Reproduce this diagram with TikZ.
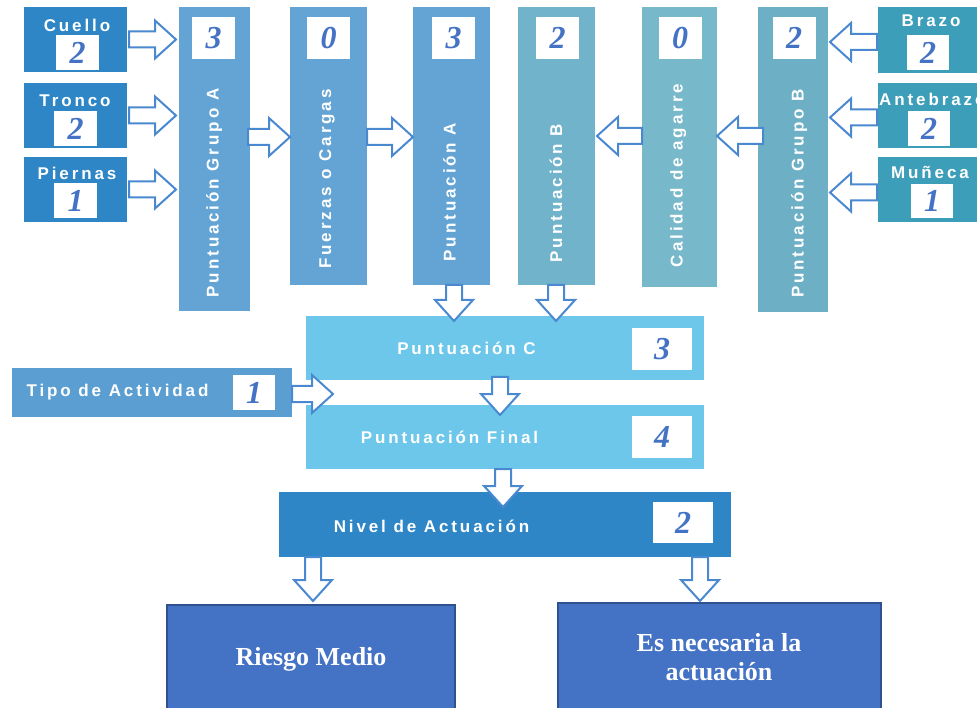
\documentclass[tikz,border=0pt]{standalone}
\usepackage{fontspec}
\usetikzlibrary{calc}
\newfontfamily\lblfont{Liberation Sans}[LetterSpace=17]
\newfontfamily\numfont{Liberation Serif}
\definecolor{leftblue}{HTML}{2E86C6}
\definecolor{colA}{HTML}{63A4D4}
\definecolor{colB}{HTML}{70B3CB}
\definecolor{colCal}{HTML}{77B8CB}
\definecolor{colGB}{HTML}{6DB0C6}
\definecolor{rightteal}{HTML}{3D9EB9}
\definecolor{lightC}{HTML}{6DC7EA}
\definecolor{tipoblue}{HTML}{5B9FD2}
\definecolor{nivelblue}{HTML}{2F86C6}
\definecolor{bottomblue}{HTML}{4472C4}
\definecolor{bottomedge}{HTML}{2F528F}
\definecolor{arrowblue}{HTML}{4A89D0}
\definecolor{numblue}{HTML}{4472C4}
\newcommand\BAs{8pt}
\newcommand\BAh{19pt}
\newcommand\BAl{21pt}
\newcommand\bx[6]{\node[box,fill=#6,minimum width=#4pt,minimum height=#5pt] (#1) at (#2,#3) {};}
\tikzset{
  box/.style={draw=none,inner sep=0pt,outer sep=0pt,anchor=north west},
  lbl/.style={font=\lblfont\bfseries\fontsize{17}{20}\selectfont,text=white,inner sep=0pt,text height=12.2pt,text depth=0pt},
  numbox/.style={fill=white,inner sep=0pt,font=\numfont\bfseries\itshape\fontsize{32}{36}\selectfont,text=numblue},
  bigtxt/.style={font=\numfont\bfseries\fontsize{26}{30}\selectfont,text=white,align=center,inner sep=0pt},
  blockarrow/.style={draw=arrowblue,line width=2pt,fill=white,line join=miter,
    to path={let \p1=(\tikztostart), \p2=(\tikztotarget),
      \n1={atan2(\y2-\y1,\x2-\x1)}, \n2={veclen(\x2-\x1,\y2-\y1)} in
      ($(\p1)+(\n1+90:\BAs)$) -- ($(\p1)+(\n1:\n2-\BAl)+(\n1+90:\BAs)$)
      -- ($(\p1)+(\n1:\n2-\BAl)+(\n1+90:\BAh)$) -- (\p2)
      -- ($(\p1)+(\n1:\n2-\BAl)+(\n1-90:\BAh)$) -- ($(\p1)+(\n1:\n2-\BAl)+(\n1-90:\BAs)$)
      -- ($(\p1)+(\n1-90:\BAs)$) -- cycle}}
}
\begin{document}
\begin{tikzpicture}[x=1pt,y=-1pt]
\useasboundingbox (0,0) rectangle (977,708);
\fill[white] (0,0) rectangle (977,708);
% boxes
\bx{cuello}{24}{7}{103}{65}{leftblue}
\bx{tronco}{24}{83}{103}{65}{leftblue}
\bx{piernas}{24}{157}{103}{65}{leftblue}
\bx{ga}{179}{7}{71}{304}{colA}
\bx{fz}{290}{7}{77}{278}{colA}
\bx{pa}{413}{7}{77}{278}{colA}
\bx{pb}{518}{7}{77}{278}{colB}
\bx{cal}{642}{7}{75}{280}{colCal}
\bx{gb}{758}{7}{70}{305}{colGB}
\bx{brazo}{878}{7}{107}{66}{rightteal}
\bx{ante}{878}{83}{107}{65}{rightteal}
\bx{muneca}{878}{157}{107}{65}{rightteal}
\bx{pc}{306}{316}{398}{64}{lightC}
\bx{pf}{306}{405}{398}{64}{lightC}
\bx{tipo}{12}{368}{280}{49}{tipoblue}
\bx{nivel}{279}{492}{452}{65}{nivelblue}
\node[box,fill=bottomblue,draw=bottomedge,line width=1.5pt,minimum width=288pt,minimum height=110pt] (riesgo) at (167,605) {};
\node[box,fill=bottomblue,draw=bottomedge,line width=1.5pt,minimum width=323pt,minimum height=112pt] (nec) at (558,603) {};
% labels
\node[lbl] (tcuello) at (77,25) {Cuello};
\node[lbl] (ttronco) at (75,100) {Tronco};
\node[lbl] (tpiernas) at (77,173) {Piernas};
\node[lbl] (tbrazo) at (931,20) {Brazo};
\node[lbl,anchor=west] (tante) at (879,99) {Antebrazo};
\node[lbl] (tmuneca) at (930,172) {Muñeca};
\node[lbl,rotate=90] (tga) at (212.5,193) {Puntuación Grupo A};
\node[lbl,rotate=90] (tfz) at (325,179) {Fuerzas o Cargas};
\node[lbl,rotate=90] (tpa) at (449.5,192) {Puntuación A};
\node[lbl,rotate=90] (tpb) at (556,193) {Puntuación B};
\node[lbl,rotate=90] (tcal) at (676.5,175.5) {Calidad de agarre};
\node[lbl,rotate=90] (tgb) at (797.5,193.5) {Puntuación Grupo B};
\node[lbl] (ttipo) at (117.5,390) {Tipo de Actividad};
\node[lbl] (tpc) at (466.5,348) {Puntuación C};
\node[lbl] (tpf) at (449.5,437) {Puntuación Final};
\node[lbl] (tnivel) at (431.5,526) {Nivel de Actuación};
\node[bigtxt] (triesgo) at (311,659) {Riesgo Medio};
\node[bigtxt] (tnec) at (719,657) {Es necesaria la\\[-1pt]actuación};
% number boxes
\node[numbox,minimum width=43pt,minimum height=35pt] (ncuello) at (77.5,52.5) {2};
\node[numbox,minimum width=43pt,minimum height=35pt] (ntronco) at (75.5,128.5) {2};
\node[numbox,minimum width=43pt,minimum height=35pt] (npiernas) at (75.5,201) {1};
\node[numbox,minimum width=43pt,minimum height=42pt] (nga) at (213.5,38) {3};
\node[numbox,minimum width=43pt,minimum height=42pt] (nfz) at (328.5,38) {0};
\node[numbox,minimum width=43pt,minimum height=42pt] (npa) at (453.5,38) {3};
\node[numbox,minimum width=43pt,minimum height=42pt] (npb) at (557.5,38) {2};
\node[numbox,minimum width=43pt,minimum height=42pt] (ncal) at (680,38) {0};
\node[numbox,minimum width=43pt,minimum height=42pt] (ngb) at (794,38) {2};
\node[numbox,minimum width=42pt,minimum height=35pt] (nbrazo) at (928,52.5) {2};
\node[numbox,minimum width=42pt,minimum height=35pt] (nante) at (929,128.5) {2};
\node[numbox,minimum width=42pt,minimum height=34pt] (nmuneca) at (932,201) {1};
\node[numbox,minimum width=60pt,minimum height=42pt] (npc) at (662,349) {3};
\node[numbox,minimum width=60pt,minimum height=42pt] (npf) at (662,437) {4};
\node[numbox,minimum width=42pt,minimum height=35pt] (ntipo) at (254,392.5) {1};
\node[numbox,minimum width=60pt,minimum height=41pt] (nnivel) at (683,522.5) {2};
% connector coordinates
\coordinate (tipotip) at ($(pc.south west)!.5!(pf.north west)+(27,1.5)$);
% arrows
\draw[blockarrow] ($(cuello.east)+(2,0)$) to ($(cuello.east -| ga.west)+(-3,0)$);
\draw[blockarrow] ($(tronco.east)+(2,0)$) to ($(tronco.east -| ga.west)+(-3,0)$);
\draw[blockarrow] ($(piernas.east)+(2,0)$) to ($(piernas.east -| ga.west)+(-3,0)$);
\draw[blockarrow] ($(ga.north east)+(-2,130)$) to ($(fz.north west)+(0,130)$);
\draw[blockarrow] ($(fz.north east)+(0,130)$) to ($(pa.north west)+(0,130)$);
\draw[blockarrow] ($(cal.north west)+(0,129)$) to ($(pb.north east)+(2,129)$);
\draw[blockarrow] ($(gb.north west)+(5,129)$) to ($(cal.north east)+(0,129)$);
\draw[blockarrow] ($(brazo.west)+(-1,2)$) to ($(brazo.west -| gb.east)+(2,2)$);
\draw[blockarrow] ($(ante.west)+(-1,2)$) to ($(ante.west -| gb.east)+(2,2)$);
\draw[blockarrow] ($(muneca.west)+(-1,3)$) to ($(muneca.west -| gb.east)+(2,3)$);
\draw[blockarrow] ($(pa.south)+(2.5,0)$) to ($(pa.south |- pc.north)+(2.5,5)$);
\draw[blockarrow] ($(pb.south)+(-0.5,0)$) to ($(pb.south |- pc.north)+(-0.5,5)$);
\draw[blockarrow] ($(tipo.east)+(0,1.5)$) to (tipotip);
\draw[blockarrow] ($(pc.south)+(-5,-3)$) to ($(pc.south |- pf.north)+(-5,10)$);
\draw[blockarrow] ($(pf.south)+(-2,0)$) to ($(pf.south |- nivel.north)+(-2,15)$);
\coordinate (nra) at ($(nivel.south -| riesgo.north)+(2,0)$);
\draw[blockarrow] (nra) to ($(riesgo.north)+(2,-4)$);
\draw[blockarrow] ($(nivel.south -| nec.north)+(-19.5,0)$) to ($(nec.north)+(-19.5,-2)$);
\end{tikzpicture}
\end{document}
